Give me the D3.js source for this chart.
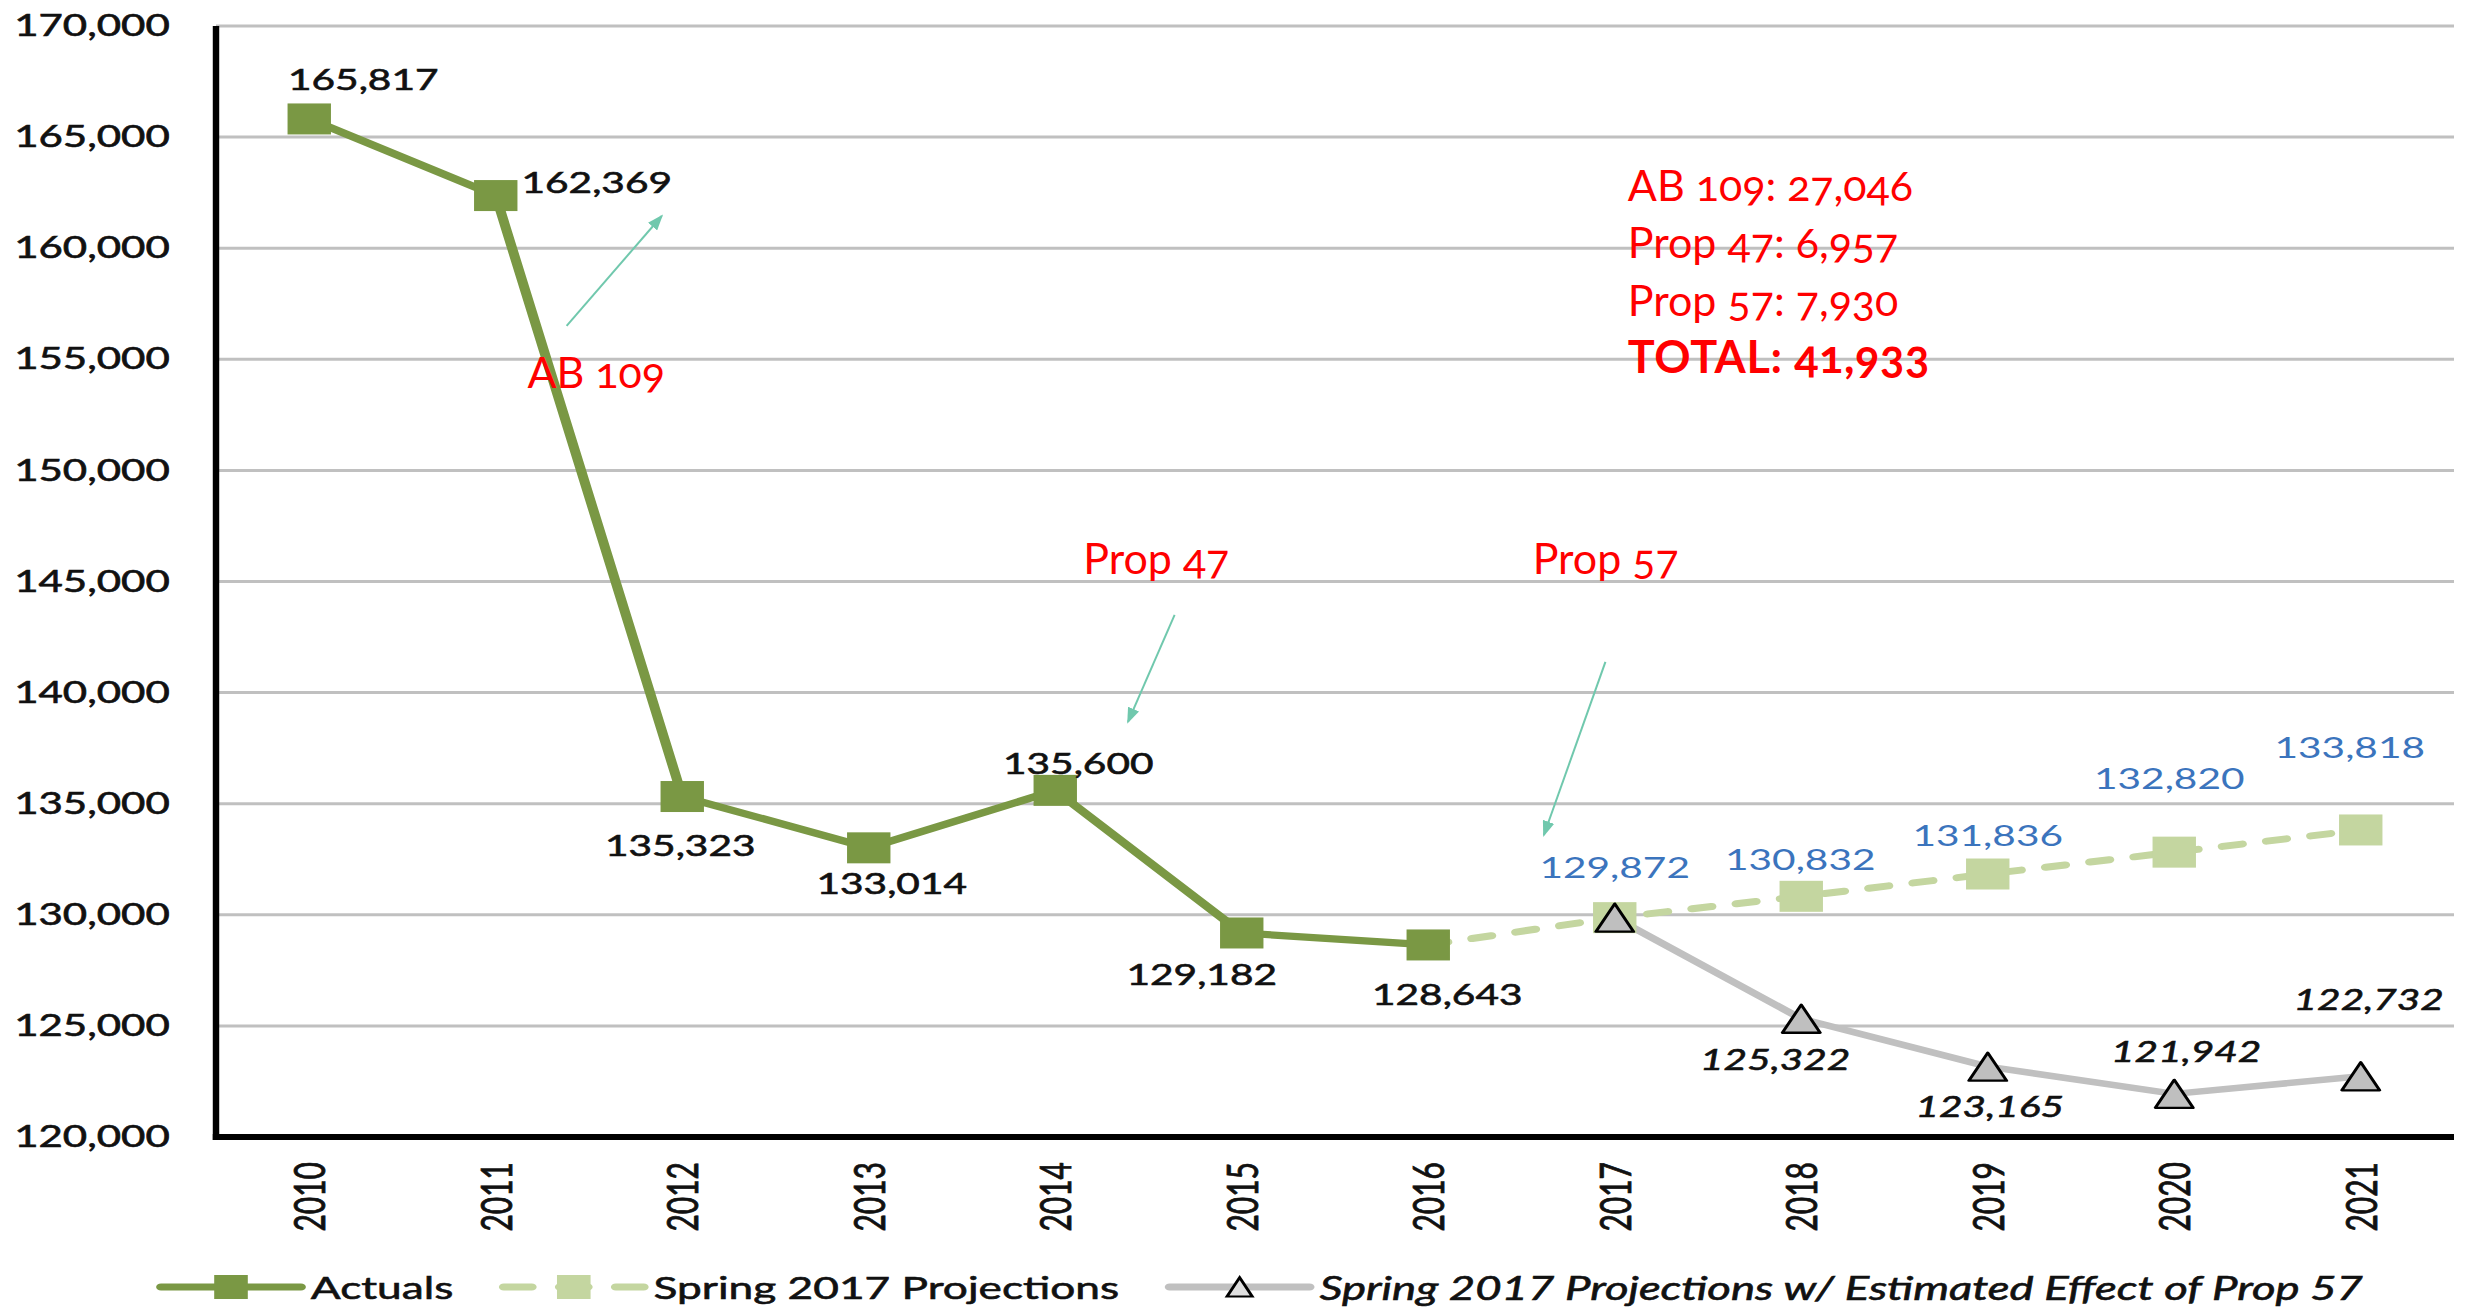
<!DOCTYPE html>
<html lang="en">
<head>
  <meta charset="utf-8" />
  <title>Prison population: actuals and projections</title>
  <script src="https://cdn.jsdelivr.net/npm/d3@7"></script>
  <style>
    body { margin: 0; background: #fff; }
    svg { display: block; }
    text { font-family: Lato, "Open Sans", sans-serif; }
  </style>
</head>
<body>
<script>
  // ---- data ----
  const years = [2010, 2011, 2012, 2013, 2014, 2015, 2016, 2017, 2018, 2019, 2020, 2021];

  const actualYears = [2010, 2011, 2012, 2013, 2014, 2015, 2016];
  const actuals = [165817, 162369, 135323, 133014, 135600, 129182, 128643];

  const projYears = [2016, 2017, 2018, 2019, 2020, 2021];
  const projections = [128643, 129872, 130832, 131836, 132820, 133818];

  const prop57Years = [2017, 2018, 2019, 2020, 2021];
  const prop57 = [129872, 125322, 123165, 121942, 122732];

  const yTicks = [120000, 125000, 130000, 135000, 140000, 145000, 150000, 155000, 160000, 165000, 170000];

  const legendNames = ["Actuals", "Spring 2017 Projections", "Spring 2017 Projections w/ Estimated Effect of Prop 57"];

  const noteLines = ["AB 109: 27,046", "Prop 47: 6,957", "Prop 57: 7,930", "TOTAL: 41,933"];

  // annotations in data units: [label, year index, value]
  const callouts = [["AB 109", 1.17, 153700], ["Prop 47", 4.15, 145340], ["Prop 57", 6.56, 145340]];
  // arrows: [from index, from value, to index, to value]
  const arrows = [[1.38, 156500, 1.89, 161450], [4.64, 143500, 4.39, 138680], [6.95, 141380, 6.62, 133590]];

  // ---- layout ----
  // the original picture is stretched sideways, so the chart is drawn
  // in a narrower viewBox and stretched back out.
  const W = 2471, H = 1310, S = 1.4;
  const px = v => v / S;

  // label nudges (screen px) from the point, one per label
  const actualNudge = [[54, -40], [101, -14], [-2, 48], [23, 35], [23, -27], [-40, 41], [19, 49]];
  const projNudge = [null, [0, -51], [-1, -37], [0, -39], [-5, -74], [-11, -83]];
  const prop57Nudge = [null, [-26, 40], [2, 39], [12, -43], [8, -77]];

  const green = "#7a9844", lightGreen = "#c4d6a0", grey = "#c0c0c0", blue = "#3b74bd", ink = "#111";

  var svg = d3.select("body").append("svg")
      .attr("width", W)
      .attr("height", H);

  var chart = svg.append("svg")
      .attr("width", W)
      .attr("height", H)
      .attr("viewBox", `0 0 ${W / S} ${H}`)
      .attr("preserveAspectRatio", "none");

  const plotLeft = px(216), plotRight = px(2454), plotTop = 26, plotBottom = 1137;

  let x = d3.scalePoint(years, [plotLeft, plotRight]).padding(0.5);
  let y = d3.scaleLinear([120000, 170000], [plotBottom, plotTop]);

  // darker black text, close to the heavier face in the original
  function inked(sel) {
    sel.attr("fill", ink).attr("stroke", ink).attr("stroke-width", 0.6);
  }

  // gridlines
  chart.append("g")
      .selectAll("line")
      .data(yTicks.filter(t => t > 120000))
      .join("line")
      .attr("x1", plotLeft)
      .attr("x2", plotRight)
      .attr("y1", d => y(d))
      .attr("y2", d => y(d))
      .attr("stroke", "#c0c0c0")
      .attr("stroke-width", 3);

  let yAxisG = chart.append("g")
      .attr("transform", `translate(${plotLeft},0)`)
      .call(d3.axisLeft(y).tickValues(yTicks).tickSize(0).tickPadding(33).tickFormat(d3.format(",")));
  yAxisG.select(".domain").remove();
  yAxisG.selectAll("text")
      .attr("font-size", 30)
      .attr("font-family", "Lato")
      .call(inked);

  let xAxisG = chart.append("g")
      .attr("transform", `translate(0,${plotBottom})`)
      .call(d3.axisBottom(x).tickSize(0));
  xAxisG.select(".domain").remove();
  xAxisG.selectAll("text")
      .attr("transform", "rotate(-90)")
      .attr("text-anchor", "end")
      .attr("x", -25)
      .attr("y", 0)
      .attr("dy", "0.36em")
      .attr("font-size", 30)
      .attr("font-family", "Lato")
      .call(inked);

  // axis lines
  chart.append("line")
      .attr("x1", plotLeft).attr("x2", plotLeft)
      .attr("y1", y(170000)).attr("y2", y(120000) + 3)
      .attr("stroke", "#000").attr("stroke-width", 4.6);
  chart.append("line")
      .attr("x1", plotLeft - 2.3).attr("x2", plotRight)
      .attr("y1", y(120000)).attr("y2", y(120000))
      .attr("stroke", "#000").attr("stroke-width", 6);

  // ---- series ----
  const zip = (ys, vs) => ys.map((yr, i) => ({year: yr, value: vs[i], i: i}));
  const actualData = zip(actualYears, actuals);
  const projData = zip(projYears, projections);
  const prop57Data = zip(prop57Years, prop57);

  let line = d3.line().x(d => x(d.year)).y(d => y(d.value));

  chart.append("path")
      .datum(projData)
      .attr("d", line)
      .attr("fill", "none")
      .attr("stroke", lightGreen)
      .attr("stroke-width", 7)
      .attr("stroke-dasharray", "14,18")
      .attr("stroke-linecap", "round");

  chart.append("path")
      .datum(prop57Data)
      .attr("d", line)
      .attr("fill", "none")
      .attr("stroke", grey)
      .attr("stroke-width", 6.5)
      .attr("stroke-linejoin", "round");

  chart.append("path")
      .datum(actualData)
      .attr("d", line)
      .attr("fill", "none")
      .attr("stroke", green)
      .attr("stroke-width", 7.2)
      .attr("stroke-linejoin", "round");

  const sq = 31;
  chart.append("g")
      .selectAll("rect")
      .data(projData.slice(1))
      .join("rect")
      .attr("x", d => x(d.year) - sq / 2)
      .attr("y", d => y(d.value) - sq / 2)
      .attr("width", sq)
      .attr("height", sq)
      .attr("fill", lightGreen);

  const triangle = (w, h) => `M0,${-h / 2}L${w / 2},${h / 2}L${-w / 2},${h / 2}Z`;
  chart.append("g")
      .selectAll("path")
      .data(prop57Data)
      .join("path")
      .attr("transform", d => `translate(${x(d.year)},${y(d.value)})`)
      .attr("d", triangle(27, 28))
      .attr("fill", "#bfbfbf")
      .attr("stroke", "#000")
      .attr("stroke-width", 2.3)
      .attr("stroke-linejoin", "round");

  chart.append("g")
      .selectAll("rect")
      .data(actualData)
      .join("rect")
      .attr("x", d => x(d.year) - sq / 2)
      .attr("y", d => y(d.value) - sq / 2)
      .attr("width", sq)
      .attr("height", sq)
      .attr("fill", green);

  // ---- value labels ----
  function labels(data, nudge, color, italic) {
    let t = chart.append("g")
        .selectAll("text")
        .data(data.filter(d => nudge[d.i]))
        .join("text")
        .attr("x", d => x(d.year) + px(nudge[d.i][0]))
        .attr("y", d => y(d.value) + nudge[d.i][1])
        .attr("text-anchor", "middle")
        .attr("dominant-baseline", "central")
        .attr("font-size", 29)
        .attr("font-style", italic ? "italic" : "normal")
        .attr("fill", color)
        .text(d => d3.format(",")(d.value));
    if (color == ink) t.call(inked);
  }
  labels(actualData, actualNudge, ink, false);
  labels(projData, projNudge, blue, false);
  labels(prop57Data, prop57Nudge, ink, true);

  // ---- legend ----
  let legend = chart.append("g").attr("transform", "translate(0,1287)");
  let lx = px(161);
  legendNames.forEach((name, i) => {
    let g = legend.append("g").attr("transform", `translate(${lx},0)`);
    let ln = g.append("line")
        .attr("x1", 0).attr("x2", 100)
        .attr("stroke-width", 7)
        .attr("stroke-linecap", "round");
    if (i == 0) {
      ln.attr("stroke", green);
      g.append("rect").attr("x", 50 - 12).attr("y", -12).attr("width", 24).attr("height", 24).attr("fill", green);
    } else if (i == 1) {
      ln.attr("stroke", lightGreen).attr("stroke-dasharray", "20,20");
      g.append("rect").attr("x", 50 - 12).attr("y", -12).attr("width", 24).attr("height", 24).attr("fill", lightGreen);
    } else {
      ln.attr("stroke", grey);
      g.append("path").attr("transform", "translate(50,0)").attr("d", triangle(18, 19))
          .attr("fill", "#e0e0e0").attr("stroke", "#000").attr("stroke-width", 2.2);
    }
    let t = g.append("text")
        .attr("x", 107)
        .attr("dominant-baseline", "central")
        .attr("font-size", i == 2 ? 32.5 : 31.6)
        .attr("font-style", i == 2 ? "italic" : "normal")
        .call(inked)
        .text(name);
    lx += 107 + t.node().getComputedTextLength() + 36;
  });

  // ---- red notes and arrows (not stretched) ----
  let xi = d3.scaleLinear([0, years.length - 1], [x(years[0]) * S, x(years[years.length - 1]) * S]);

  svg.append("defs").append("marker")
      .attr("id", "head")
      .attr("markerUnits", "userSpaceOnUse")
      .attr("markerWidth", 16).attr("markerHeight", 12)
      .attr("refX", 14).attr("refY", 6)
      .attr("orient", "auto")
      .append("path")
      .attr("d", "M0,0L16,6L0,12Z")
      .attr("fill", "#70c8ad");

  svg.append("g")
      .selectAll("line")
      .data(arrows)
      .join("line")
      .attr("x1", d => xi(d[0])).attr("y1", d => y(d[1]))
      .attr("x2", d => xi(d[2])).attr("y2", d => y(d[3]))
      .attr("stroke", "#70c8ad")
      .attr("stroke-width", 2)
      .attr("marker-end", "url(#head)");

  svg.append("g")
      .selectAll("text")
      .data(callouts)
      .join("text")
      .attr("x", d => xi(d[1]))
      .attr("y", d => y(d[2]))
      .attr("font-size", 43)
      .attr("fill", "#ff0000")
      .style("font-variant-numeric", "oldstyle-nums")
      .text(d => d[0]);

  let noteX = xi(7.07), noteY = y(162130);
  svg.append("g")
      .selectAll("text")
      .data(noteLines)
      .join("text")
      .attr("x", noteX)
      .attr("y", (d, i) => noteY + i * 57.5)
      .attr("font-size", (d, i) => i == 3 ? 45 : 43)
      .attr("font-weight", (d, i) => i == 3 ? "bold" : "normal")
      .attr("letter-spacing", (d, i) => i == 3 ? 0.6 : 0)
      .attr("fill", "#ff0000")
      .style("font-variant-numeric", "oldstyle-nums")
      .text(d => d);
</script>
</body>
</html>
